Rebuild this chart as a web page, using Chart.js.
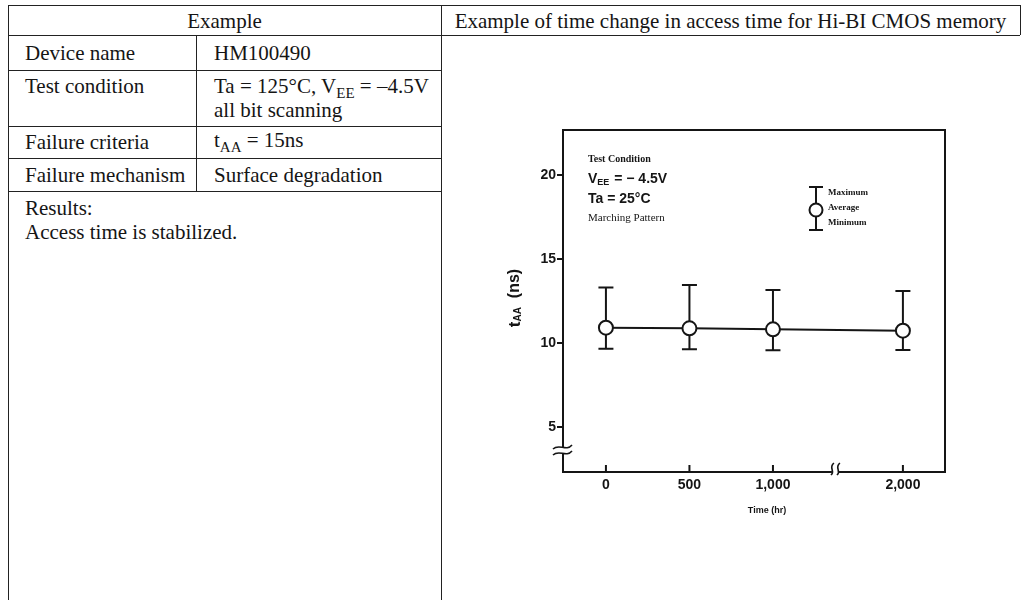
<!DOCTYPE html>
<html>
<head>
<meta charset="utf-8">
<script src="https://cdn.jsdelivr.net/npm/chart.js@4.4.1/dist/chart.umd.min.js"></script>
<style>
  body { margin: 0; background: #fff; }
  #page { position: relative; width: 1023px; height: 600px; overflow: hidden; background: #fff;
          font-family: "Liberation Serif", "Times New Roman", serif; color: #151515; }
  .h { position: absolute; height: 0; border-top: 1.5px solid #222; }
  .v { position: absolute; width: 0; border-left: 1.5px solid #222; }
  .t { position: absolute; font-size: 21px; line-height: 24px; white-space: nowrap; }
  .sub { font-size: 15px; position: relative; top: 5px; }
  #chart { position: absolute; left: 460px; top: 120px; }
</style>
</head>
<body>
<div id="page">
  <!-- table lines -->
  <div class="h" style="left:8px; top:5px; width:1012px"></div>
  <div class="h" style="left:8px; top:35px; width:1012px"></div>
  <div class="h" style="left:8px; top:70px; width:433px"></div>
  <div class="h" style="left:8px; top:126px; width:433px"></div>
  <div class="h" style="left:8px; top:158px; width:433px"></div>
  <div class="h" style="left:8px; top:191px; width:433px"></div>
  <div class="v" style="left:8px; top:5px; height:600px"></div>
  <div class="v" style="left:196px; top:35px; height:156px"></div>
  <div class="v" style="left:441px; top:5px; height:600px"></div>
  <div class="v" style="left:1020px; top:5px; height:30px"></div>

  <!-- table texts -->
  <div class="t" style="left:8px; width:433px; text-align:center; top:9px">Example</div>
  <div class="t" style="left:441px; width:579px; text-align:center; top:9px">Example of time change in access time for Hi-BI CMOS memory</div>
  <div class="t" style="left:25px; top:41px">Device name</div>
  <div class="t" style="left:214px; top:41px">HM100490</div>
  <div class="t" style="left:25px; top:74px">Test condition</div>
  <div class="t" style="left:214px; top:74px">Ta = 125°C, V<span class="sub">EE</span> = –4.5V</div>
  <div class="t" style="left:214px; top:98px">all bit scanning</div>
  <div class="t" style="left:25px; top:130px">Failure criteria</div>
  <div class="t" style="left:214px; top:128px">t<span class="sub">AA</span> = 15ns</div>
  <div class="t" style="left:25px; top:163px">Failure mechanism</div>
  <div class="t" style="left:214px; top:163px">Surface degradation</div>
  <div class="t" style="left:25px; top:196px">Results:</div>
  <div class="t" style="left:25px; top:220px">Access time is stabilized.</div>

  <canvas id="chart" width="540" height="420"></canvas>
</div>

<script>
// ---- data ----
const timeHours = [0, 500, 1000, 2000];
const xTickLabels = ["0", "500", "1,000", "2,000"];
const avgNs = [10.91, 10.87, 10.81, 10.73];
const maxNs = [13.3, 13.45, 13.15, 13.1];
const minNs = [9.65, 9.62, 9.56, 9.58];
const yTicks = [5, 10, 15, 20];

// time axis is broken between 1,000 and 2,000 hr
const BREAK_AT = 1000;
const BREAK_SCALE = 0.778;
const axisPos = h => (h <= BREAK_AT ? h : BREAK_AT + (h - BREAK_AT) * BREAK_SCALE);
const xPos = timeHours.map(axisPos);

const INK = "#151515";

const decor = {
  id: "decor",
  beforeDatasetsDraw(chart) {
    // error bars (max / min)
    const { ctx, scales: { x, y } } = chart;
    ctx.save();
    ctx.strokeStyle = INK;
    ctx.lineWidth = 2;
    xPos.forEach((p, i) => {
      const px = x.getPixelForValue(p);
      const top = y.getPixelForValue(maxNs[i]);
      const bot = y.getPixelForValue(minNs[i]);
      ctx.beginPath();
      ctx.moveTo(px, top); ctx.lineTo(px, bot);
      ctx.moveTo(px - 7.5, top); ctx.lineTo(px + 7.5, top);
      ctx.moveTo(px - 7.5, bot); ctx.lineTo(px + 7.5, bot);
      ctx.stroke();
    });
    ctx.restore();
  },
  afterDraw(chart) {
    const { ctx, chartArea: a, scales: { x } } = chart;
    ctx.save();
    ctx.strokeStyle = INK;
    ctx.fillStyle = INK;
    ctx.lineWidth = 2;

    // top and right frame
    ctx.beginPath();
    ctx.moveTo(a.left, a.top); ctx.lineTo(a.right, a.top); ctx.lineTo(a.right, a.bottom);
    ctx.stroke();

    // x ticks pointing inward
    ctx.beginPath();
    xPos.forEach(p => {
      const px = x.getPixelForValue(p);
      ctx.moveTo(px, a.bottom); ctx.lineTo(px, a.bottom - 7);
    });
    ctx.stroke();

    // y axis break
    const by = a.bottom - 22;
    ctx.fillStyle = "#fff";
    ctx.fillRect(a.left - 3, by - 3, 6, 7);
    ctx.lineWidth = 1.6;
    [by - 3, by + 3].forEach(yy => {
      ctx.beginPath();
      ctx.moveTo(a.left - 10, yy + 2);
      ctx.bezierCurveTo(a.left - 4, yy - 4, a.left + 3, yy + 5, a.left + 9, yy - 2);
      ctx.stroke();
    });

    // x axis break
    const bx = x.getPixelForValue(axisPos(1500)) - 4;
    ctx.fillRect(bx - 2, a.bottom - 3, 7, 6);
    [bx - 2, bx + 4].forEach(xx => {
      ctx.beginPath();
      ctx.moveTo(xx - 1, a.bottom + 3);
      ctx.bezierCurveTo(xx + 4, a.bottom - 1, xx - 4, a.bottom - 4, xx + 2, a.bottom - 9);
      ctx.stroke();
    });

    // annotations
    ctx.fillStyle = INK;
    ctx.textBaseline = "middle";
    ctx.textAlign = "left";
    const lx = a.left + 25;
    ctx.font = "bold 10px 'Liberation Serif'";
    ctx.fillText("Test Condition", lx, a.top + 29);
    ctx.font = "bold 14px 'Liberation Sans'";
    ctx.fillText("V", lx, a.top + 49);
    let w = ctx.measureText("V").width;
    ctx.font = "bold 9px 'Liberation Sans'";
    ctx.fillText("EE", lx + w, a.top + 53);
    w += ctx.measureText("EE").width;
    ctx.font = "bold 14px 'Liberation Sans'";
    ctx.fillText(" = \u2212 4.5V", lx + w + 1, a.top + 49);
    ctx.fillText("Ta = 25\u00b0C", lx, a.top + 69);
    ctx.font = "11px 'Liberation Serif'";
    ctx.fillText("Marching Pattern", lx, a.top + 88);

    // legend symbol
    const sx = a.left + 253;
    ctx.lineWidth = 2;
    ctx.beginPath();
    ctx.moveTo(sx, a.top + 57); ctx.lineTo(sx, a.top + 100);
    ctx.moveTo(sx - 7, a.top + 57); ctx.lineTo(sx + 7, a.top + 57);
    ctx.moveTo(sx - 7, a.top + 100); ctx.lineTo(sx + 7, a.top + 100);
    ctx.stroke();
    ctx.beginPath();
    ctx.arc(sx, a.top + 80, 6.5, 0, Math.PI * 2);
    ctx.fillStyle = "#fff";
    ctx.fill();
    ctx.stroke();
    ctx.fillStyle = INK;
    ctx.font = "bold 9px 'Liberation Serif'";
    ctx.fillText("Maximum", sx + 12, a.top + 63);
    ctx.fillText("Average", sx + 12, a.top + 78);
    ctx.fillText("Minimum", sx + 12, a.top + 93);

    // x title
    ctx.textAlign = "center";
    ctx.font = "bold 9px 'Liberation Sans'";
    ctx.fillText("Time (hr)", a.left + 204, a.bottom + 39);

    // y title, rotated
    ctx.translate(a.left - 48, (a.top + a.bottom) / 2 - 3);
    ctx.rotate(-Math.PI / 2);
    ctx.textAlign = "left";
    const parts = [
      ["t", "bold 17px 'Liberation Sans'", 0],
      ["AA", "bold 10px 'Liberation Sans'", 3],
      ["  (ns)", "bold 16px 'Liberation Sans'", 0]
    ];
    let total = 0;
    parts.forEach(p => { ctx.font = p[1]; total += ctx.measureText(p[0]).width; });
    let cx = -total / 2;
    parts.forEach(p => {
      ctx.font = p[1];
      ctx.fillText(p[0], cx, p[2]);
      cx += ctx.measureText(p[0]).width;
    });
    ctx.restore();
  }
};

new Chart(document.getElementById("chart"), {
  type: "line",
  data: {
    datasets: [{
      data: xPos.map((p, i) => ({ x: p, y: avgNs[i] })),
      borderColor: INK,
      borderWidth: 2,
      pointRadius: 7,
      pointBorderWidth: 2,
      pointBackgroundColor: "#fff",
      pointBorderColor: INK,
      tension: 0
    }]
  },
  options: {
    responsive: false,
    animation: false,
    layout: { padding: { top: 10, right: 55, left: 0, bottom: 0 } },
    plugins: { legend: { display: false }, tooltip: { enabled: false } },
    scales: {
      x: {
        type: "linear",
        min: -257,
        max: 2030,
        afterBuildTicks: s => { s.ticks = xPos.map(v => ({ value: v })); },
        afterFit: s => { s.height = 68; },
        grid: { display: false },
        border: { display: true, color: INK, width: 2 },
        ticks: {
          padding: -3,
          color: INK,
          font: { family: "Liberation Sans", size: 14, weight: "bold" },
          callback: (v, i) => xTickLabels[i]
        }
      },
      y: {
        min: 2.3,
        max: 22.7,
        afterBuildTicks: s => { s.ticks = yTicks.map(v => ({ value: v })); },
        afterFit: s => { s.width = 103; },
        grid: { drawOnChartArea: false, drawTicks: true, tickLength: 6, tickColor: INK, lineWidth: 2 },
        border: { display: true, color: INK, width: 2 },
        ticks: {
          padding: 1,
          color: INK,
          font: { family: "Liberation Sans", size: 14, weight: "bold" }
        }
      }
    }
  },
  plugins: [decor]
});
</script>
</body>
</html>
